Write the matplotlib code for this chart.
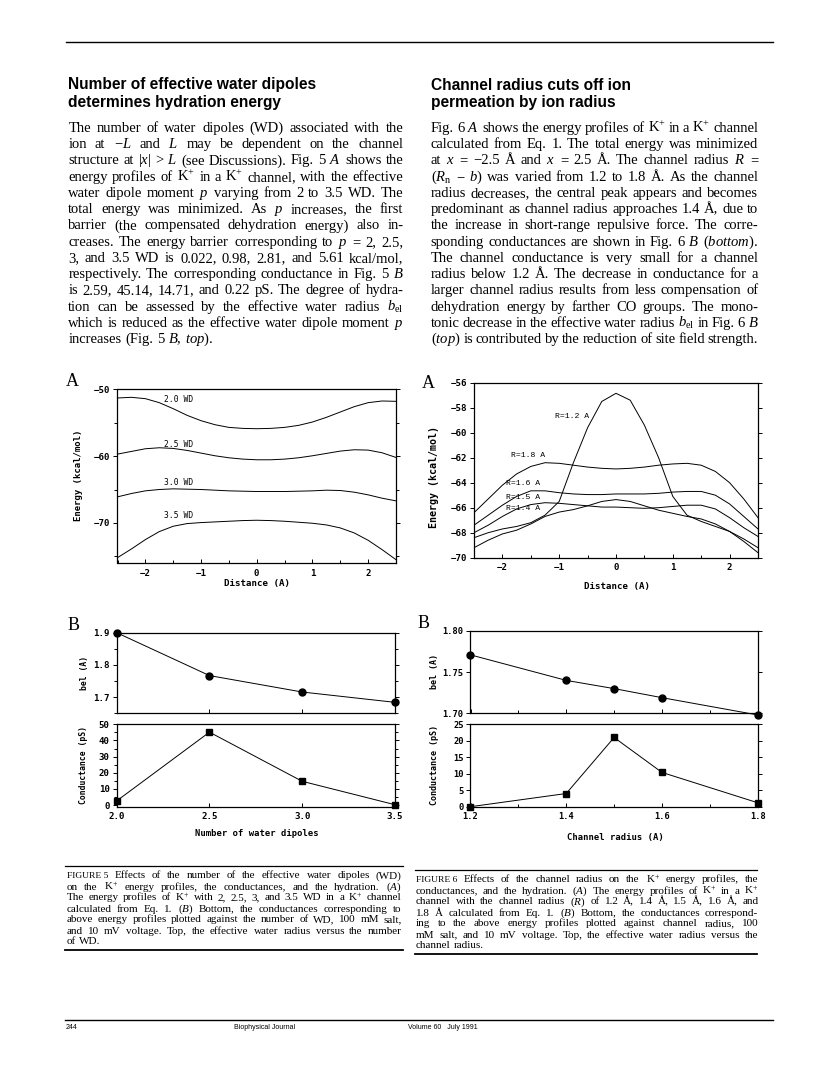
import matplotlib

matplotlib.use("Agg")
import matplotlib.pyplot as plt
from matplotlib.lines import Line2D
from matplotlib.ticker import MultipleLocator, FormatStrFormatter

W, H = 816, 1065

# ---- data ----
DIST = [-2.5, -2.25, -2.0, -1.75, -1.5, -1.25, -1.0, -0.75, -0.5, -0.25, 0.0,
        0.25, 0.5, 0.75, 1.0, 1.25, 1.5, 1.75, 2.0, 2.25, 2.5]

# Fig 5A: energy profiles vs number of water dipoles
E_WD20 = [-51.3, -51.2, -51.4, -52.0, -52.9, -53.9, -54.7, -55.3, -55.7, -55.85, -55.9,
          -55.85, -55.7, -55.4, -54.9, -54.2, -53.4, -52.6, -52.0, -51.75, -51.8]
E_WD25 = [-59.7, -59.3, -58.9, -58.75, -58.85, -59.15, -59.55, -59.95, -60.25, -60.45, -60.55,
          -60.55, -60.45, -60.25, -59.95, -59.6, -59.25, -59.05, -59.1, -59.5, -60.2]
E_WD30 = [-66.1, -65.6, -65.2, -65.0, -64.9, -64.95, -65.0, -65.1, -65.2, -65.25, -65.3,
          -65.3, -65.3, -65.25, -65.2, -65.1, -65.15, -65.4, -65.8, -66.3, -66.7]
E_WD35 = [-75.2, -73.9, -72.5, -71.3, -70.5, -70.1, -69.95, -69.85, -69.75, -69.65, -69.6,
          -69.65, -69.75, -69.9, -70.05, -70.3, -70.75, -71.5, -72.6, -74.0, -75.5]
WD_CURVES = [E_WD20, E_WD25, E_WD30, E_WD35]
WD_NAMES = ["2.0 WD", "2.5 WD", "3.0 WD", "3.5 WD"]

# Fig 6A: energy profiles vs channel radius
E_R12 = [-68.4, -68.0, -67.7, -67.5, -67.2, -66.6, -65.5, -62.4, -59.6, -57.5, -56.85,
         -57.4, -59.4, -62.0, -65.1, -66.6, -67.1, -67.5, -67.9, -68.5, -69.2]
E_R14 = [-69.2, -68.6, -68.1, -67.8, -67.3, -66.7, -66.35, -66.15, -65.85, -65.5, -65.35,
         -65.5, -65.85, -66.2, -66.45, -66.7, -66.9, -67.3, -67.9, -68.7, -69.6]
E_R15 = [-68.0, -67.4, -66.7, -66.1, -65.75, -65.6, -65.65, -65.75, -65.85, -65.95, -65.95,
         -66.0, -66.05, -66.0, -65.9, -65.8, -65.8, -66.1, -66.8, -67.6, -68.3]
E_R16 = [-67.4, -66.6, -65.8, -65.1, -64.65, -64.65, -64.8, -64.9, -64.95, -64.95, -64.9,
         -64.9, -64.9, -64.85, -64.75, -64.7, -64.7, -65.0, -65.7, -66.7, -67.7]
E_R18 = [-66.4, -65.3, -64.2, -63.3, -62.7, -62.4, -62.45, -62.6, -62.75, -62.85, -62.9,
         -62.85, -62.75, -62.6, -62.5, -62.45, -62.6, -63.1, -64.0, -65.3, -66.8]
R_CURVES = [E_R12, E_R14, E_R15, E_R16, E_R18]
R_NAMES = ["R=1.2 A", "R=1.4 A", "R=1.5 A", "R=1.6 A", "R=1.8 A"]

# Fig 5B
WD = [2.0, 2.5, 3.0, 3.5]
BEL_WD = [1.900, 1.767, 1.716, 1.684]
COND_WD = [2.59, 45.14, 14.71, 0.22]

# Fig 6B
RADIUS = [1.2, 1.4, 1.5, 1.6, 1.8]
BEL_R = [1.771, 1.740, 1.730, 1.719, 1.698]
COND_R = [0.0, 4.0, 21.0, 10.4, 1.2]

LEFT_BODY = [
    "The number of water dipoles (WD) associated with the",
    "ion at $-L$ and $L$ may be dependent on the channel",
    "structure at $|x|$ > $L$ (see Discussions). Fig. 5 $A$ shows the",
    "energy profiles of K$^{+}$ in a K$^{+}$ channel, with the effective",
    "water dipole moment $p$ varying from 2 to 3.5 WD. The",
    "total energy was minimized. As $p$ increases, the first",
    "barrier (the compensated dehydration energy) also in-",
    "creases. The energy barrier corresponding to $p$ = 2, 2.5,",
    "3, and 3.5 WD is 0.022, 0.98, 2.81, and 5.61 kcal/mol,",
    "respectively. The corresponding conductance in Fig. 5 $B$",
    "is 2.59, 45.14, 14.71, and 0.22 pS. The degree of hydra-",
    r"tion can be assessed by the effective water radius $b_{\mathrm{el}}$",
    "which is reduced as the effective water dipole moment $p$",
    r"increases (Fig. 5 $B$, $\mathit{top}$).",
]
RIGHT_BODY = [
    "Fig. 6 $A$ shows the energy profiles of K$^{+}$ in a K$^{+}$ channel",
    "calculated from Eq. 1. The total energy was minimized",
    "at $x$ = \u22122.5 \u00c5 and $x$ = 2.5 \u00c5. The channel radius $R$ =",
    "($R_{\\mathrm{n}}$ \u2212 $b$) was varied from 1.2 to 1.8 \u00c5. As the channel",
    "radius decreases, the central peak appears and becomes",
    "predominant as channel radius approaches 1.4 \u00c5, due to",
    "the increase in short-range repulsive force. The corre-",
    r"sponding conductances are shown in Fig. 6 $B$ ($\mathit{bottom}$).",
    "The channel conductance is very small for a channel",
    "radius below 1.2 \u00c5. The decrease in conductance for a",
    "larger channel radius results from less compensation of",
    "dehydration energy by farther CO groups. The mono-",
    r"tonic decrease in the effective water radius $b_{\mathrm{el}}$ in Fig. 6 $B$",
    r"($\mathit{top}$) is contributed by the reduction of site field strength.",
]
CAP5 = [
    "FIGURE\u00a05 Effects of the number of the effective water dipoles (WD)",
    "on the K$^{+}$ energy profiles, the conductances, and the hydration. ($A$)",
    "The energy profiles of K$^{+}$ with 2, 2.5, 3, and 3.5 WD in a K$^{+}$ channel",
    "calculated from Eq. 1. ($B$) Bottom, the conductances corresponding to",
    "above energy profiles plotted against the number of WD, 100 mM salt,",
    "and 10 mV voltage. Top, the effective water radius versus the number",
    "of WD.",
]
CAP6 = [
    "FIGURE\u00a06 Effects of the channel radius on the K$^{+}$ energy profiles, the",
    "conductances, and the hydration. ($A$) The energy profiles of K$^{+}$ in a K$^{+}$",
    "channel with the channel radius ($R$) of 1.2 \u00c5, 1.4 \u00c5, 1.5 \u00c5, 1.6 \u00c5, and",
    "1.8 \u00c5 calculated from Eq. 1. ($B$) Bottom, the conductances correspond-",
    "ing to the above energy profiles plotted against channel radius, 100",
    "mM salt, and 10 mV voltage. Top, the effective water radius versus the",
    "channel radius.",
]

plt.rcParams["font.family"] = "DejaVu Sans Mono"
plt.rcParams["font.weight"] = "bold"
plt.rcParams["mathtext.fontset"] = "custom"
plt.rcParams["mathtext.rm"] = "Liberation Serif:weight=normal"
plt.rcParams["mathtext.it"] = "Liberation Serif:style=italic:weight=normal"
plt.rcParams["mathtext.bf"] = "Liberation Serif:weight=bold"

fig = plt.figure(figsize=(W / 100, H / 100), dpi=100, facecolor="white")


def fx(x):
    return x / W


def fy(y):
    return 1 - y / H


def add_axes_px(left, top, right, bottom):
    return fig.add_axes([fx(left), fy(bottom), (right - left) / W, (bottom - top) / H])


def rule(x0, x1, y, lw=1.0):
    fig.add_artist(Line2D([fx(x0), fx(x1)], [fy(y), fy(y)], color="black", lw=lw,
                          transform=fig.transFigure))


def paragraph(lines, x0, x1, y0, dy, size, family="Liberation Serif"):
    """Justified text block; the last line keeps plain spaces if it fits."""
    r = fig.canvas.get_renderer()
    space = 0.25 * size * 100 / 72
    for i, line in enumerate(lines):
        words = line.split(" ")
        arts = []
        for w in words:
            s = size * 0.85 if w.startswith("FIGURE") else size
            arts.append(fig.text(0, 0, w.replace("\u00a0", " "), fontsize=s, family=family,
                                 fontweight="normal", va="baseline"))
        widths = [a.get_window_extent(r).width for a in arts]
        n = len(arts)
        natural = sum(widths) + space * (n - 1)
        if n == 1 or (i == len(lines) - 1 and natural <= x1 - x0):
            gap = space
        else:
            gap = (x1 - x0 - sum(widths)) / (n - 1)
            if gap < 0.6 * space:
                # too tight: shrink this line a little
                k = (x1 - x0 - 0.6 * space * (n - 1)) / sum(widths)
                for a in arts:
                    a.set_fontsize(a.get_fontsize() * k)
                widths = [a.get_window_extent(r).width for a in arts]
                gap = (x1 - x0 - sum(widths)) / (n - 1)
        x = x0
        for a, w in zip(arts, widths):
            a.set_position((fx(x), fy(y0 + i * dy)))
            x += w + gap


def style(ax, fs=6.6):
    for sp in ax.spines.values():
        sp.set_linewidth(0.9)
    ax.tick_params(axis="y", which="both", direction="out", right=True, width=0.7,
                   labelsize=fs, pad=2)
    ax.tick_params(axis="y", which="major", length=3)
    ax.tick_params(axis="y", which="minor", length=2)
    ax.tick_params(axis="x", which="both", direction="in", width=0.7, labelsize=fs, pad=4)
    ax.tick_params(axis="x", which="major", length=3)
    ax.tick_params(axis="x", which="minor", length=2)


def label(x, y, s, size, rot=0):
    fig.text(fx(x), fy(y), s, fontsize=size, rotation=rot, ha="center", va="center")


def panel_letter(x, y, s):
    fig.text(fx(x), fy(y), s, fontsize=13, family="Liberation Serif", fontweight="normal",
             ha="center", va="center")


# ---- page furniture ----
rule(66, 773, 41.5, 1.0)
head_kw = dict(fontsize=11.2, family="Liberation Sans", fontweight="bold", va="baseline")
fig.text(fx(68.3), fy(89.5), "Number of effective water dipoles", **head_kw)
fig.text(fx(68.3), fy(107), "determines hydration energy", **head_kw)
fig.text(fx(430.7), fy(89.5), "Channel radius cuts off ion", **head_kw)
fig.text(fx(430.7), fy(107), "permeation by ion radius", **head_kw)

paragraph(LEFT_BODY, 68.3, 403.3, 132, 16.25, 10.5)
paragraph(RIGHT_BODY, 430.7, 758.3, 132, 16.25, 10.5)

# ---- Fig 5A ----
ax = add_axes_px(117.5, 389.3, 396, 563)
for e in WD_CURVES:
    ax.plot(DIST, e, color="black", lw=0.7)
ax.set_xlim(-2.5, 2.5)
ax.set_ylim(-76, -50)
ax.xaxis.set_major_locator(MultipleLocator(1))
ax.xaxis.set_minor_locator(MultipleLocator(0.5))
ax.yaxis.set_major_locator(MultipleLocator(10))
ax.yaxis.set_minor_locator(MultipleLocator(5))
style(ax)
for name, yy in zip(WD_NAMES, [-51.5, -58.2, -63.95, -68.95]):
    ax.text(-1.4, yy, name, fontsize=5.8, fontweight="normal", ha="center", va="center")
label(256.7, 583.5, "Distance (A)", 6.6)
label(78.3, 475, "Energy (kcal/mol)", 6.5, rot=90)
panel_letter(72, 381, "A")

# ---- Fig 6A ----
ax = add_axes_px(474, 382.7, 758, 557.7)
for e in R_CURVES:
    ax.plot(DIST, e, color="black", lw=0.7)
ax.set_xlim(-2.5, 2.5)
ax.set_ylim(-70, -56)
ax.xaxis.set_major_locator(MultipleLocator(1))
ax.xaxis.set_minor_locator(MultipleLocator(0.5))
ax.yaxis.set_major_locator(MultipleLocator(2))
style(ax)
lab_kw = dict(fontsize=5.9, family="Liberation Mono", fontweight="normal", ha="center", va="center")
ax.text(-0.77, -58.7, R_NAMES[0], **lab_kw)
ax.text(-1.63, -66.05, R_NAMES[1], **lab_kw)
ax.text(-1.63, -65.2, R_NAMES[2], **lab_kw)
ax.text(-1.63, -64.05, R_NAMES[3], **lab_kw)
ax.text(-1.54, -61.8, R_NAMES[4], **lab_kw)
label(616.8, 587, "Distance (A)", 6.6)
label(434, 476.7, "Energy (kcal/mol)", 7.2, rot=90)
panel_letter(428.3, 383.3, "A")

# ---- Fig 5B ----
ax_t = add_axes_px(116.7, 632.7, 395, 713.3)
ax_b = add_axes_px(116.7, 724.3, 395, 806.7)
ax_t.plot(WD, BEL_WD, color="black", lw=0.7, marker="o", markersize=5, clip_on=False)
ax_b.plot(WD, COND_WD, color="black", lw=0.7, marker="s", markersize=4, clip_on=False)
ax_t.set_ylim(1.65, 1.9)
ax_t.yaxis.set_major_locator(MultipleLocator(0.1))
ax_t.yaxis.set_minor_locator(MultipleLocator(0.05))
ax_b.set_ylim(-1, 50)
ax_b.yaxis.set_major_locator(MultipleLocator(10))
ax_b.yaxis.set_minor_locator(MultipleLocator(5))
for a in (ax_t, ax_b):
    a.set_xlim(2.0, 3.5)
    a.xaxis.set_major_locator(MultipleLocator(0.5))
    a.xaxis.set_major_formatter(FormatStrFormatter("%.1f"))
    style(a)
ax_t.tick_params(axis="x", labelbottom=False)
label(256.7, 834, "Number of water dipoles", 6.4)
label(84, 673.3, "bel (A)", 5.8, rot=90)
label(84, 765, "Conductance (pS)", 5.8, rot=90)
panel_letter(73.3, 625, "B")

# ---- Fig 6B ----
ax_t = add_axes_px(470.5, 631, 757.7, 713.3)
ax_b = add_axes_px(470.5, 724.3, 757.7, 806.7)
ax_t.plot(RADIUS, BEL_R, color="black", lw=0.7, marker="o", markersize=5, clip_on=False)
ax_b.plot(RADIUS, COND_R, color="black", lw=0.7, marker="s", markersize=4, clip_on=False)
ax_t.set_ylim(1.70, 1.80)
ax_t.yaxis.set_major_locator(MultipleLocator(0.05))
ax_t.yaxis.set_major_formatter(FormatStrFormatter("%.2f"))
ax_b.set_ylim(0, 25)
ax_b.yaxis.set_major_locator(MultipleLocator(5))
for a in (ax_t, ax_b):
    a.set_xlim(1.2, 1.8)
    a.xaxis.set_major_locator(MultipleLocator(0.2))
    a.xaxis.set_minor_locator(MultipleLocator(0.1))
    a.xaxis.set_major_formatter(FormatStrFormatter("%.1f"))
    style(a, fs=6.3)
ax_t.tick_params(axis="x", labelbottom=False)
label(615, 837.7, "Channel radius (A)", 6.4)
label(434.5, 671.7, "bel (A)", 6.0, rot=90)
label(434.5, 765, "Conductance (pS)", 6.0, rot=90)
panel_letter(423.3, 623.3, "B")

# ---- captions ----
rule(65, 403, 866, 0.9)
paragraph(CAP5, 66.7, 401.7, 878.5, 11.0, 8.0)
rule(65, 403, 950, 1.3)
rule(415, 757, 870, 0.9)
paragraph(CAP6, 416, 758.3, 882.5, 11.0, 8.0)
rule(415, 757, 954, 1.3)

# ---- footer ----
rule(65, 773, 1020, 1.0)
foot_kw = dict(fontsize=5, family="Liberation Sans", fontweight="normal", va="baseline")
fig.text(fx(66), fy(1029), "244", **foot_kw)
fig.text(fx(265), fy(1029), "Biophysical Journal", ha="center", **foot_kw)
fig.text(fx(408), fy(1029), "Volume 60   July 1991", **foot_kw)

fig.savefig("out.png", dpi=100, facecolor="white")
